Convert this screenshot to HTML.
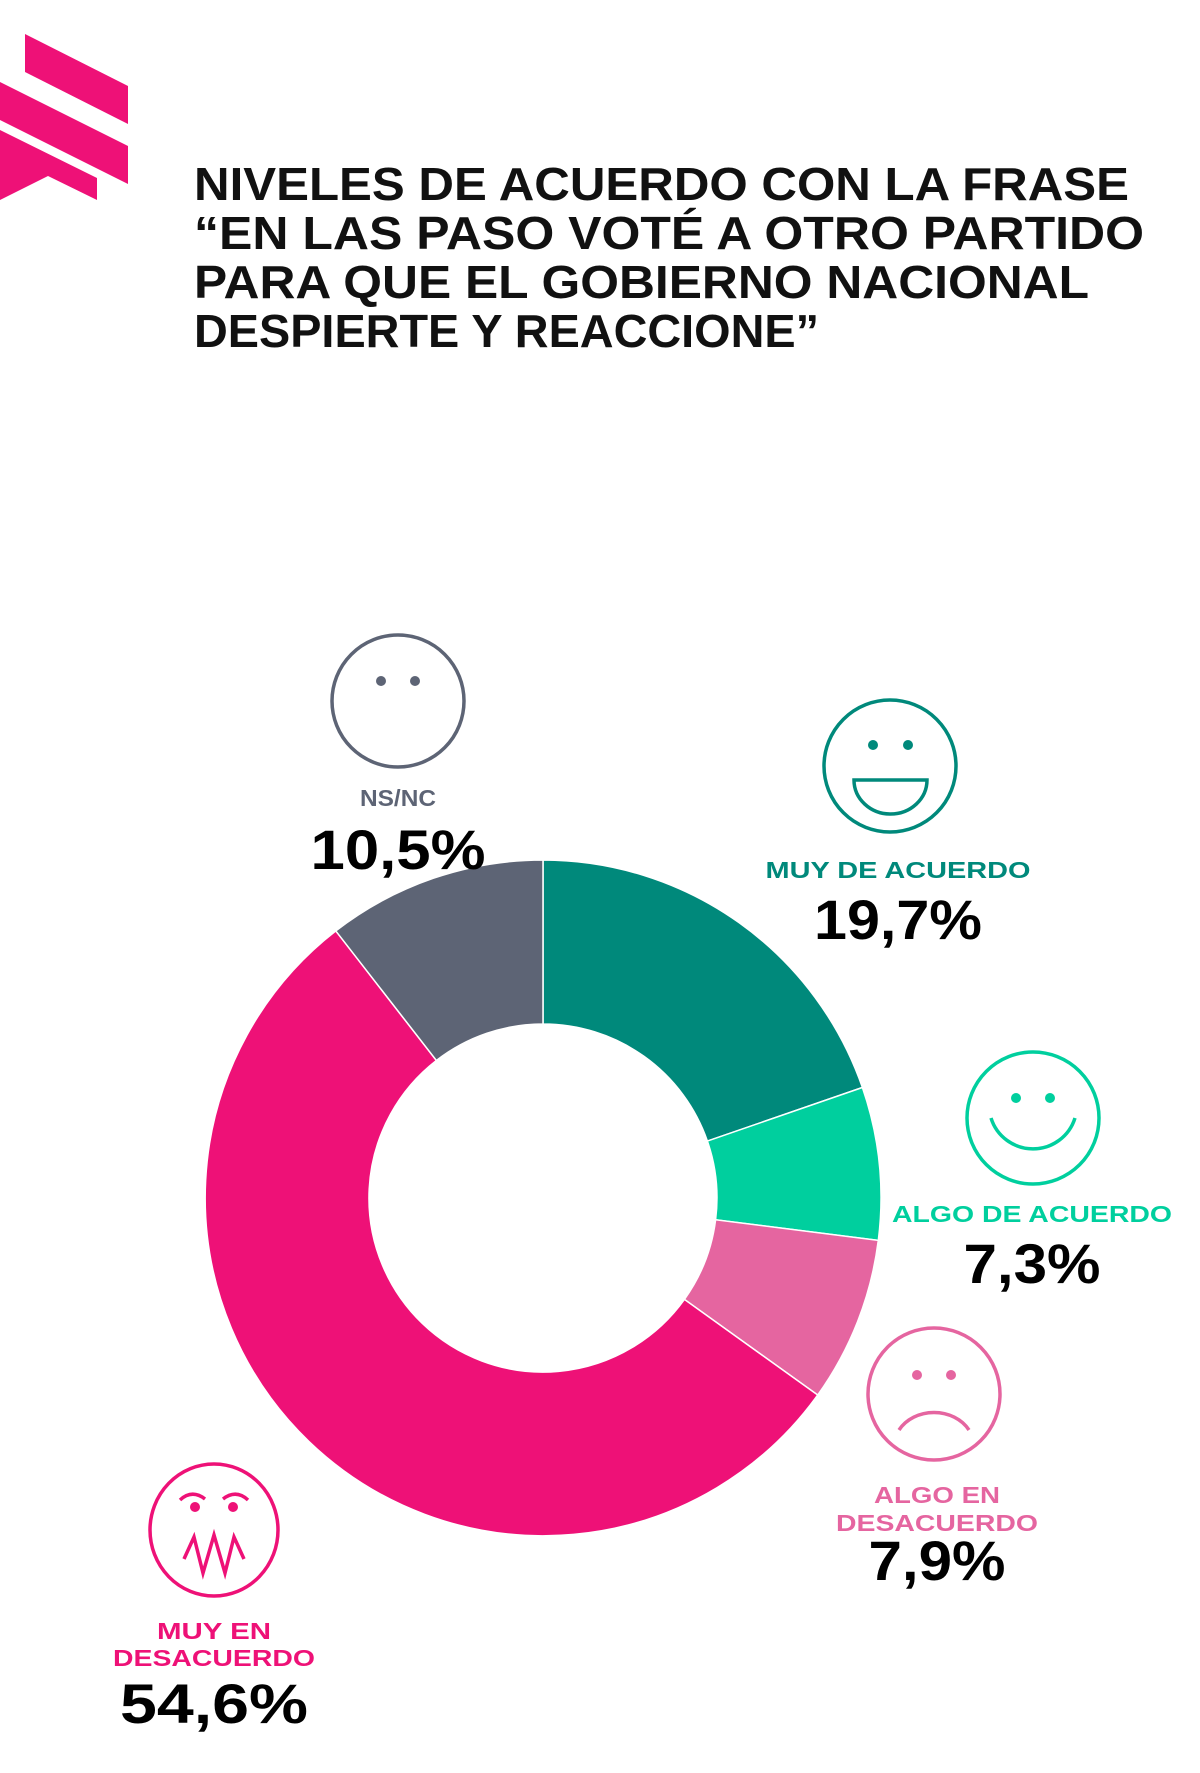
<!DOCTYPE html>
<html><head><meta charset="utf-8"><style>
html,body{margin:0;padding:0;background:#fff;}
svg{display:block;}
text{font-family:"Liberation Sans",sans-serif;}
</style></head><body>
<svg width="1200" height="1773" viewBox="0 0 1200 1773" xmlns="http://www.w3.org/2000/svg">
<!-- logo -->
<g fill="#ee1177">
<polygon points="25,34 128,86 128,124 25,72"/>
<polygon points="0,82 128,146 128,184 0,120"/>
<polygon points="0,130 97,178 97,200 48,176 0,200"/>
</g>
<!-- title -->
<g font-size="46" font-weight="bold" fill="#111">
<text x="194" y="200" textLength="935" lengthAdjust="spacingAndGlyphs">NIVELES DE ACUERDO CON LA FRASE</text>
<text x="194" y="249" textLength="950" lengthAdjust="spacingAndGlyphs">“EN LAS PASO VOTÉ A OTRO PARTIDO</text>
<text x="194" y="298" textLength="895" lengthAdjust="spacingAndGlyphs">PARA QUE EL GOBIERNO NACIONAL</text>
<text x="194" y="347" textLength="625" lengthAdjust="spacingAndGlyphs">DESPIERTE Y REACCIONE”</text>
</g>
<!-- donut -->
<g stroke="#fff" stroke-width="1.5">
<path d="M543,860 A338,338 0 0 1 862.4,1087.5 L707.4,1141.1 A174,174 0 0 0 543,1024 Z" fill="#00897b"/>
<path d="M862.4,1087.5 A338,338 0 0 1 878.3,1240.4 L715.6,1219.8 A174,174 0 0 0 707.4,1141.1 Z" fill="#00cf9e"/>
<path d="M878.3,1240.4 A338,338 0 0 1 817.7,1395 L684.4,1299.4 A174,174 0 0 0 715.6,1219.8 Z" fill="#e565a0"/>
<path d="M817.7,1395 A338,338 0 1 1 335.8,930.9 L436.4,1060.5 A174,174 0 1 0 684.4,1299.4 Z" fill="#ee1177"/>
<path d="M335.8,930.9 A338,338 0 0 1 543,860 L543,1024 A174,174 0 0 0 436.4,1060.5 Z" fill="#5d6475"/>
</g>
<!-- faces -->
<g fill="none" stroke-width="3.5">
<circle cx="398" cy="701" r="66" stroke="#5d6475"/>
<circle cx="890" cy="766" r="66" stroke="#00897b"/>
<path d="M854,780 L927,780 A36.5,34 0 0 1 854,780 Z" stroke="#00897b"/>
<circle cx="1033" cy="1118" r="66" stroke="#00cf9e"/>
<path d="M991,1118 A44,44 0 0 0 1075,1118" stroke="#00cf9e"/>
<circle cx="934" cy="1394" r="66" stroke="#e565a0"/>
<path d="M899,1430 A40,34 0 0 1 969,1430" stroke="#e565a0"/>
<ellipse cx="214" cy="1530" rx="64" ry="66" stroke="#ee1177"/>
<path d="M180,1500 Q192,1489 205,1499 M223,1499 Q236,1489 248,1500 M184,1559 L194,1537 L203,1573 L214,1535 L225,1573 L234,1537 L244,1559" stroke="#ee1177"/>
</g>
<g>
<circle cx="381" cy="681" r="5" fill="#5d6475"/><circle cx="415" cy="681" r="5" fill="#5d6475"/>
<circle cx="873" cy="745" r="5" fill="#00897b"/><circle cx="908" cy="745" r="5" fill="#00897b"/>
<circle cx="1016" cy="1098" r="5" fill="#00cf9e"/><circle cx="1050" cy="1098" r="5" fill="#00cf9e"/>
<circle cx="917" cy="1375" r="5" fill="#e565a0"/><circle cx="951" cy="1375" r="5" fill="#e565a0"/>
<circle cx="195" cy="1507" r="5" fill="#ee1177"/><circle cx="233" cy="1507" r="5" fill="#ee1177"/>
</g>
<!-- labels -->
<g font-weight="bold" font-size="23" text-anchor="middle">
<text x="398" y="806" fill="#5d6475" textLength="76" lengthAdjust="spacingAndGlyphs">NS/NC</text>
<text x="898" y="878" fill="#00897b" textLength="265" lengthAdjust="spacingAndGlyphs">MUY DE ACUERDO</text>
<text x="1032" y="1222" fill="#00cf9e" textLength="280" lengthAdjust="spacingAndGlyphs">ALGO DE ACUERDO</text>
<text x="937" y="1503" fill="#e565a0" textLength="126" lengthAdjust="spacingAndGlyphs">ALGO EN</text>
<text x="937" y="1531" fill="#e565a0" textLength="202" lengthAdjust="spacingAndGlyphs">DESACUERDO</text>
<text x="214" y="1639" fill="#ee1177" textLength="114" lengthAdjust="spacingAndGlyphs">MUY EN</text>
<text x="214" y="1666" fill="#ee1177" textLength="202" lengthAdjust="spacingAndGlyphs">DESACUERDO</text>
</g>
<g font-weight="900" font-size="56" text-anchor="middle" fill="#000">
<text x="398" y="869" textLength="175" lengthAdjust="spacingAndGlyphs">10,5%</text>
<text x="898" y="939" textLength="168" lengthAdjust="spacingAndGlyphs">19,7%</text>
<text x="1032" y="1283" textLength="137" lengthAdjust="spacingAndGlyphs">7,3%</text>
<text x="937" y="1580" textLength="137" lengthAdjust="spacingAndGlyphs">7,9%</text>
<text x="214" y="1723" textLength="188" lengthAdjust="spacingAndGlyphs">54,6%</text>
</g>
</svg>
</body></html>
